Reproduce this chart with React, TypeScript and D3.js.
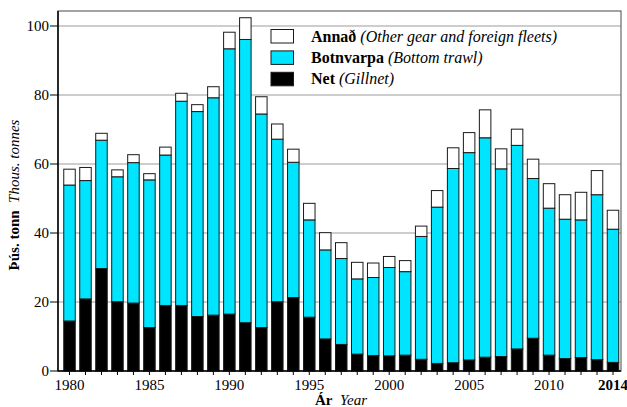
import * as d3 from "d3";
import { useEffect, useRef } from "react";

const YEARS = d3.range(1980, 2015);

// Þús. tonn
const GILLNET = [
  14.5, 20.9, 29.7, 20.1, 19.7, 12.6, 19.0, 19.0, 15.8, 16.2,
  16.5, 14.0, 12.6, 20.1, 21.3, 15.6, 9.3, 7.7, 4.9, 4.5,
  4.4, 4.6, 3.4, 2.2, 2.4, 3.2, 4.0, 4.2, 6.4, 9.5,
  4.6, 3.6, 3.9, 3.3, 2.5,
];
const TRAWL = [
  39.4, 34.3, 37.2, 36.2, 40.7, 42.8, 43.6, 59.2, 59.4, 63.0,
  76.9, 82.1, 61.9, 47.1, 39.2, 28.2, 25.8, 24.9, 21.8, 22.6,
  25.6, 24.2, 35.6, 45.3, 56.3, 60.1, 63.6, 54.4, 59.0, 46.3,
  42.6, 40.4, 39.9, 47.8, 38.6,
];
const OTHER = [
  4.6, 3.8, 2.0, 2.0, 2.3, 1.8, 2.3, 2.3, 2.0, 3.2,
  4.8, 6.3, 5.0, 4.4, 3.8, 4.8, 5.0, 4.6, 4.8, 4.2,
  3.2, 3.2, 3.0, 4.8, 6.0, 5.8, 8.1, 5.8, 4.7, 5.6,
  7.1, 7.1, 8.0, 7.0, 5.5,
];

const SERIES = ["Net", "Botnvarpa", "Annað"];
const SERIES_EN = ["(Gillnet)", "(Bottom trawl)", "(Other gear and foreign fleets)"];
const COLORS = ["#000000", "#00e5ff", "#ffffff"];
const Y_TICKS = [0, 20, 40, 60, 80, 100];
const X_LABELS = [1980, 1985, 1990, 1995, 2000, 2005, 2010, 2014];

export default function App() {
  const ref = useRef<SVGSVGElement | null>(null);
  useEffect(() => {
    if (!ref.current) return;
    const svg = d3.select(ref.current);
    svg.selectAll("*").remove();
    const left = 58, right = 621, top = 11, bottom = 371;

    const x = d3.scaleLinear().domain([1980, 2014]).range([69.5, 613]);
    const y = d3.scaleLinear().domain([0, 104.35]).range([bottom, top]);
    const barW = 11.5;

    const rows = YEARS.map((yr, i) => ({ year: yr, Net: GILLNET[i], Botnvarpa: TRAWL[i], "Annað": OTHER[i] }));
    const stacked = d3.stack<any>().keys(SERIES)(rows);

    // gridlines
    svg.append("g")
      .selectAll("line")
      .data(Y_TICKS.filter((d) => d > 0))
      .join("line")
      .attr("x1", left).attr("x2", right)
      .attr("y1", (d) => y(d)).attr("y2", (d) => y(d))
      .attr("stroke", "#bdbdbd").attr("stroke-width", 1.5);

    // frame
    svg.append("rect")
      .attr("x", left).attr("y", top)
      .attr("width", right - left).attr("height", bottom - top)
      .attr("fill", "none").attr("stroke", "#666").attr("stroke-width", 1.2);

    // bars
    svg.append("g")
      .selectAll("g")
      .data(stacked)
      .join("g")
      .attr("fill", (_, i) => COLORS[i])
      .selectAll("rect")
      .data((s) => s)
      .join("rect")
      .attr("x", (d) => x(d.data.year) - barW / 2)
      .attr("width", barW)
      .attr("y", (d) => y(d[1]))
      .attr("height", (d) => y(d[0]) - y(d[1]))
      .attr("stroke", "#1a1a1a")
      .attr("stroke-width", 1);

    // axes lines
    svg.append("line").attr("x1", left).attr("x2", left).attr("y1", top).attr("y2", bottom)
      .attr("stroke", "#000").attr("stroke-width", 1.5);
    svg.append("line").attr("x1", left).attr("x2", right).attr("y1", bottom).attr("y2", bottom)
      .attr("stroke", "#000").attr("stroke-width", 1.5);

    // y ticks
    const yAx = svg.append("g").style("font-size", "15px");
    yAx.selectAll("line").data(Y_TICKS).join("line")
      .attr("x1", left - 8).attr("x2", left)
      .attr("y1", (d) => y(d)).attr("y2", (d) => y(d))
      .attr("stroke", "#000");
    yAx.selectAll("text").data(Y_TICKS).join("text")
      .attr("x", left - 9).attr("y", (d) => y(d) + 5)
      .attr("text-anchor", "end")
      .text((d) => d);

    // x ticks
    const xAx = svg.append("g").style("font-size", "15px");
    xAx.selectAll("line").data(YEARS).join("line")
      .attr("x1", (d) => x(d)).attr("x2", (d) => x(d))
      .attr("y1", bottom).attr("y2", bottom + 4)
      .attr("stroke", "#000");
    xAx.selectAll("text").data(X_LABELS).join("text")
      .attr("x", (d) => x(d)).attr("y", 390)
      .attr("text-anchor", "middle")
      .style("font-weight", (d) => (d === 2014 ? "bold" : "normal"))
      .text((d) => d);

    // axis titles
    const xt = svg.append("text").style("font-size", "15px")
      .attr("x", 341).attr("y", 405).attr("text-anchor", "middle");
    xt.append("tspan").style("font-weight", "bold").text("Ár");
    xt.append("tspan").style("font-style", "italic").text("\u00a0\u00a0Year");

    const yt = svg.append("text").style("font-size", "15px")
      .attr("transform", "translate(19,195) rotate(-90)").attr("text-anchor", "middle");
    yt.append("tspan").style("font-weight", "bold").text("Þús. tonn");
    yt.append("tspan").style("font-style", "italic").text("\u00a0\u00a0Thous. tonnes");

    // legend (top to bottom: Annað, Botnvarpa, Net)
    const order = [2, 1, 0];
    const lg = svg.append("g").style("font-size", "16px");
    const item = lg.selectAll("g").data(order).join("g")
      .attr("transform", (_, i) => `translate(271,${29.5 + i * 21.4})`);
    item.append("rect")
      .attr("width", 22.5).attr("height", 13.5)
      .attr("fill", (d) => COLORS[d]).attr("stroke", "#1a1a1a");
    const lt = item.append("text").attr("x", 40).attr("y", 12);
    lt.append("tspan").style("font-weight", "bold").text((d) => SERIES[d]);
    lt.append("tspan").style("font-style", "italic").text((d) => "\u00a0" + SERIES_EN[d]);
  }, []);
  return (
    <svg ref={ref} width={627} height={407}
      style={{
        position: "absolute", left: 0, top: 0, background: "#fff",
        fontFamily: "'Liberation Serif', 'DejaVu Serif', serif",
      }} />
  );
}
